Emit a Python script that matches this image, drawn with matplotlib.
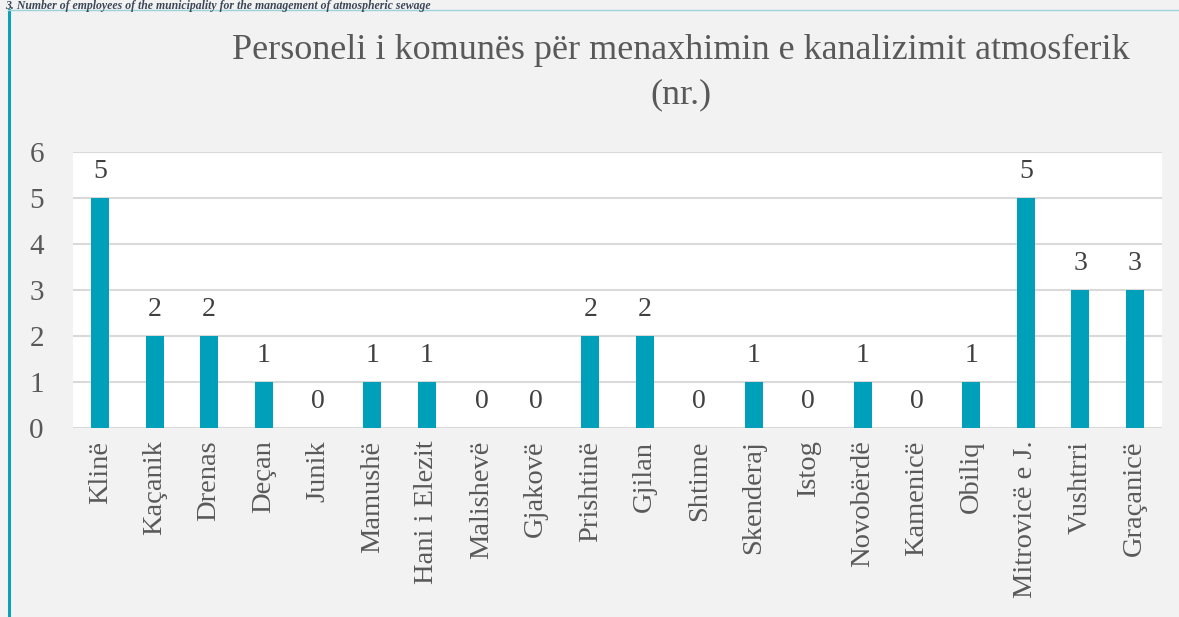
import matplotlib
matplotlib.use("Agg")
import matplotlib.pyplot as plt
from matplotlib.lines import Line2D

BAR = "#00a0ba"; GRID = "#d9d9d9"; BG = "#f2f2f2"; TXT = "#595959"; LBL = "#404040"
FONT = ["Liberation Serif", "DejaVu Serif"]

municipalities = ["Klinë", "Kaçanik", "Drenas", "Deçan", "Junik", "Mamushë", "Hani i Elezit",
                  "Malishevë", "Gjakovë", "Prishtinë", "Gjilan", "Shtime", "Skenderaj", "Istog",
                  "Novobërdë", "Kamenicë", "Obiliq", "Mitrovicë e J.", "Vushtrri", "Graçanicë"]
staff = [5, 2, 2, 1, 0, 1, 1, 0, 0, 2, 2, 0, 1, 0, 1, 0, 1, 5, 3, 3]
yticks = [0, 1, 2, 3, 4, 5, 6]

plt.rcParams["font.family"] = FONT
fig = plt.figure(figsize=(11.79, 6.17), dpi=100)
fig.patch.set_facecolor(BG)

# frame lines of the source document
fig.add_artist(Line2D([8.5/1179, 8.5/1179], [0, 1-10/617], color="#0fa0b8", lw=2.2))
fig.add_artist(Line2D([8/1179, 1], [1-10/617, 1-10/617], color="#9fd3dc", lw=1.0))
fig.text(5/1179, 1-0.5/617, "3. Number of employees of the municipality for the management of atmospheric sewage",
         fontsize=8.5, fontweight="bold", fontstyle="italic", color="#3b4656", va="top", ha="left")

ax = fig.add_axes([73/1179, 1-428/617, (1162-73)/1179, (428-152)/617])
ax.set_facecolor("white")
x = range(len(municipalities))
ax.bar(x, staff, width=0.33, color=BAR, zorder=3)
ax.set_xlim(-0.5, len(municipalities)-0.5)
ax.set_ylim(0, 6)
ax.set_yticks(yticks)
ax.yaxis.grid(True, color=GRID, lw=1.5, zorder=0)
ax.set_axisbelow(True)
for s in ax.spines.values(): s.set_visible(False)
ax.tick_params(length=0)
ax.set_yticklabels([str(v) for v in yticks], fontsize=21, color=TXT)
ax.tick_params(axis="y", pad=21)
ax.set_xticks(list(x))
ax.set_xticklabels(municipalities, rotation=90, fontsize=20.5, color=TXT)
ax.tick_params(axis="x", pad=9)
for i, v in zip(x, staff):
    ax.annotate(str(v), (i, v), xytext=(0, 19), textcoords="offset points",
                ha="center", va="center", fontsize=20, color=LBL)

fig.text(681/1179, 1-50/617, "Personeli i komunës për menaxhimin e kanalizimit atmosferik",
         fontsize=26, color=TXT, ha="center", va="center")
fig.text(681/1179, 1-95/617, "(nr.)", fontsize=26, color=TXT, ha="center", va="center")

fig.savefig("out.png", facecolor=BG)
